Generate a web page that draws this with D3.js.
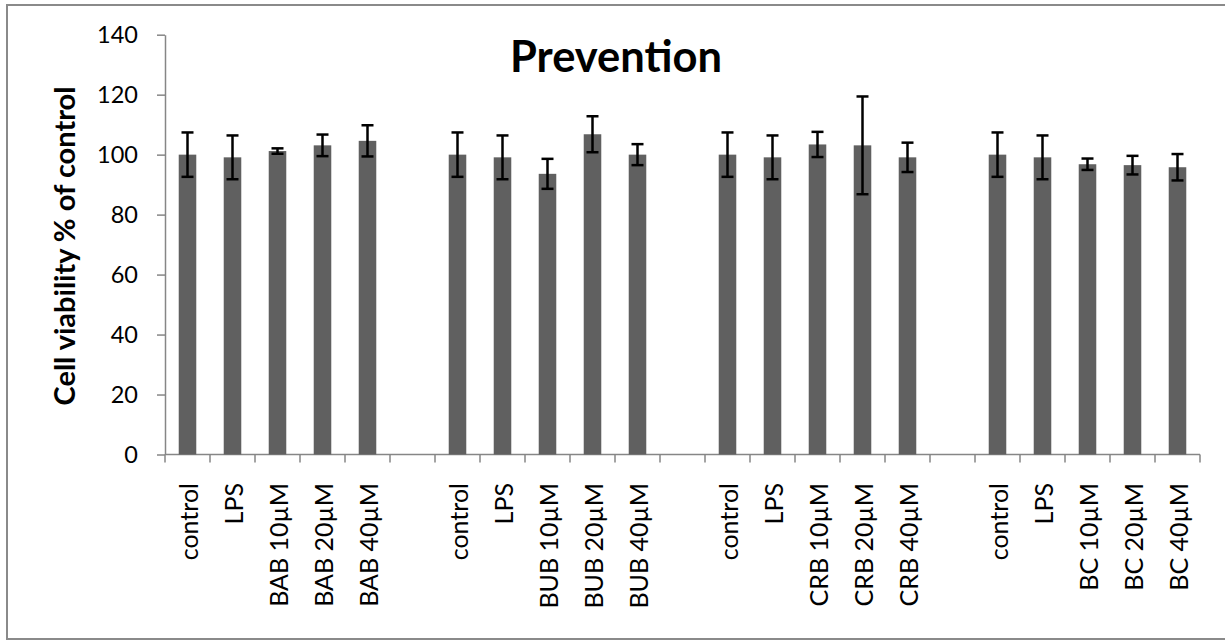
<!DOCTYPE html>
<html>
<head>
<meta charset="utf-8">
<script src="https://cdn.jsdelivr.net/npm/d3@7"></script>
<style>
  html, body { margin: 0; padding: 0; background: #fff; }
  svg { display: block; }
  text { font-family: Lato, "Open Sans", sans-serif; }
</style>
</head>
<body>
<svg id="chart" width="1225" height="641"></svg>
<script>
// ---- data ----
const slots = ["c1","l1","bab10","bab20","bab40","gap1",
               "c2","l2","bub10","bub20","bub40","gap2",
               "c3","l3","crb10","crb20","crb40","gap3",
               "c4","l4","bc10","bc20","bc40"];
const labels = ["control","LPS","BAB 10µM","BAB 20µM","BAB 40µM","",
                "control","LPS","BUB 10µM","BUB 20µM","BUB 40µM","",
                "control","LPS","CRB 10µM","CRB 20µM","CRB 40µM","",
                "control","LPS","BC 10µM","BC 20µM","BC 40µM"];
const values = [100, 99.1, 101.2, 103.1, 104.6, null,
                100, 99.1, 93.6, 106.8, 100, null,
                100, 99.1, 103.4, 103.1, 99.1, null,
                100, 99.1, 96.8, 96.5, 95.8];
const errors = [7.4, 7.3, 0.9, 3.6, 5.2, null,
                7.4, 7.3, 5.0, 6.0, 3.5, null,
                7.4, 7.3, 4.2, 16.3, 4.9, null,
                7.4, 7.3, 1.9, 3.1, 4.4];
const yTicks = [0, 20, 40, 60, 80, 100, 120, 140];
const title = "Prevention";
const yTitle = "Cell viability % of control";

// ---- layout ----
const svg = d3.select("#chart");
const x0 = 165, x1 = 1200, yTop = 34.7, yBot = 454.5;
const axisColor = "#868686";

svg.append("rect")
  .attr("x", 7).attr("y", 5).attr("width", 1240).attr("height", 634)
  .attr("fill", "none").attr("stroke", "#8a8a8a").attr("stroke-width", 2);

const x = d3.scaleBand().domain(slots).range([x0, x1]).padding(0);
const y = d3.scaleLinear().domain([0, 140]).range([yBot, yTop]);

// y axis
const yAxis = d3.axisLeft(y).tickValues(yTicks).tickSize(8).tickSizeOuter(0).tickPadding(19);
const gy = svg.append("g").attr("transform", `translate(${x0},0)`).call(yAxis);
gy.attr("font-family", "Lato, sans-serif").attr("font-size", 23.5);
gy.select(".domain").attr("stroke", axisColor).attr("stroke-width", 1.5);
gy.selectAll(".tick line").attr("stroke", axisColor).attr("stroke-width", 1.5);
gy.selectAll(".tick text").attr("fill", "#000");

// x axis baseline and boundary ticks
const boundaries = slots.map(s => x(s)).concat([x1]);
svg.append("line").attr("x1", x0).attr("x2", x1).attr("y1", yBot).attr("y2", yBot)
  .attr("stroke", axisColor).attr("stroke-width", 1.5);
svg.selectAll(".xtick").data(boundaries).enter().append("line")
  .attr("class", "xtick")
  .attr("x1", d => d).attr("x2", d => d).attr("y1", yBot).attr("y2", yBot + 8)
  .attr("stroke", axisColor).attr("stroke-width", 1.5);

// x labels
svg.selectAll(".xlab").data(slots.map((s, i) => ({s, t: labels[i]})).filter(d => d.t)).enter()
  .append("text").attr("class", "xlab")
  .attr("transform", d => `translate(${x(d.s) + x.bandwidth() / 2 + 1},483) rotate(-90)`)
  .attr("text-anchor", "end").attr("dy", "0.36em")
  .attr("font-size", 25).attr("fill", "#000")
  .text(d => d.t);

// bars
const data = slots.map((s, i) => ({s, v: values[i], e: errors[i]})).filter(d => d.v != null);
const bw = x.bandwidth() * 0.39;
svg.selectAll(".bar").data(data).enter().append("rect")
  .attr("class", "bar")
  .attr("x", d => x(d.s) + (x.bandwidth() - bw) / 2)
  .attr("y", d => y(d.v))
  .attr("width", bw)
  .attr("height", d => y(0) - y(d.v))
  .attr("fill", "#606060");

// error bars
const eb = svg.selectAll(".eb").data(data).enter().append("g").attr("class", "eb")
  .attr("stroke", "#000").attr("stroke-width", 2.5);
const cx = d => x(d.s) + x.bandwidth() / 2;
eb.append("line").attr("x1", cx).attr("x2", cx)
  .attr("y1", d => y(d.v + d.e)).attr("y2", d => y(d.v - d.e));
eb.append("line").attr("x1", d => cx(d) - 6).attr("x2", d => cx(d) + 6)
  .attr("y1", d => y(d.v + d.e)).attr("y2", d => y(d.v + d.e));
eb.append("line").attr("x1", d => cx(d) - 6).attr("x2", d => cx(d) + 6)
  .attr("y1", d => y(d.v - d.e)).attr("y2", d => y(d.v - d.e));

// title
svg.append("text").attr("x", 616).attr("y", 71.5).attr("text-anchor", "middle")
  .attr("font-size", 43.5).attr("font-weight", "bold").attr("fill", "#000").text(title);

// y title
svg.append("text").attr("transform", "translate(75,246) rotate(-90)")
  .attr("text-anchor", "middle").attr("font-size", 29).attr("font-weight", "bold")
  .attr("fill", "#000").text(yTitle);
</script>
</body>
</html>
